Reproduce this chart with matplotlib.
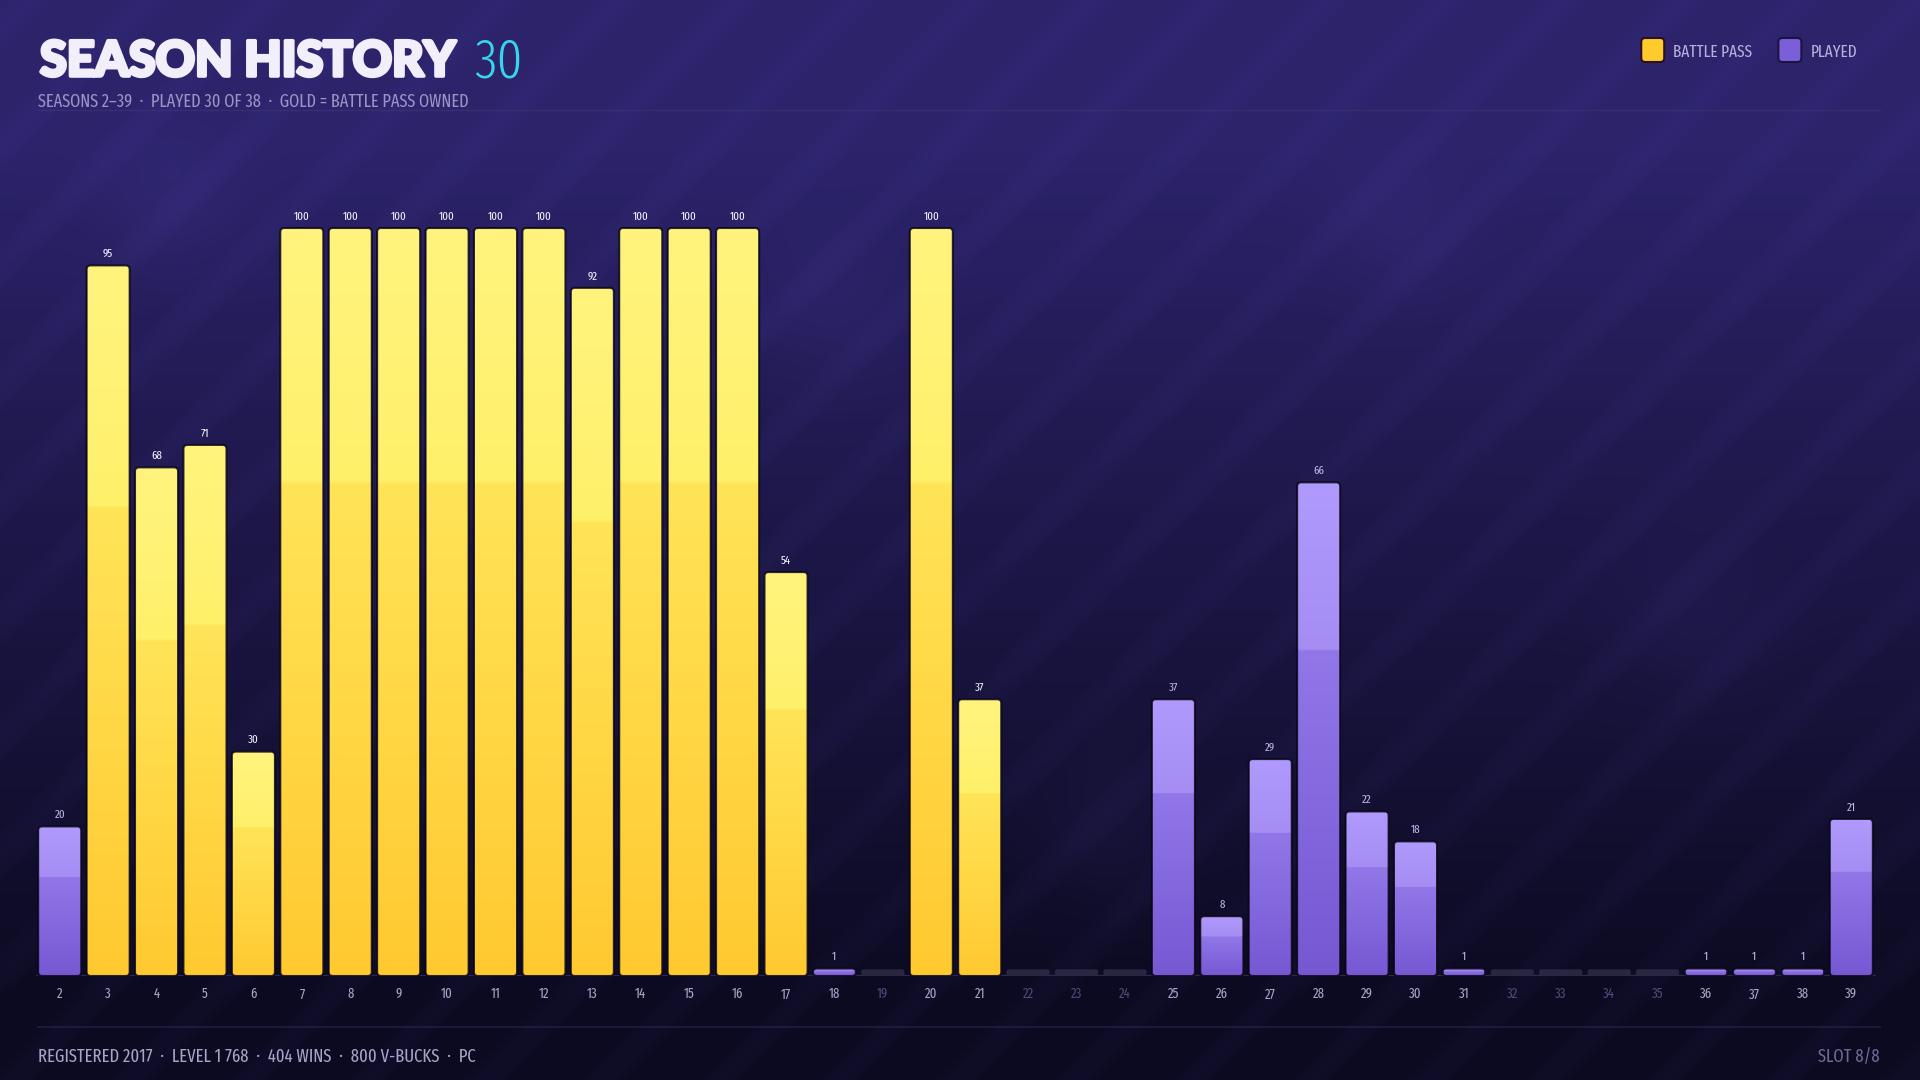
import numpy as np
import matplotlib
matplotlib.use("Agg")
import matplotlib.pyplot as plt
import matplotlib.font_manager as fm
import matplotlib.patheffects as pe
from matplotlib.patches import FancyBboxPatch

# ---------------- data ----------------
seasons = list(range(2, 40))
levels = [20, 95, 68, 71, 30, 100, 100, 100, 100, 100, 100, 92, 100, 100, 100, 54, 1, 0,
          100, 37, 0, 0, 0, 37, 8, 29, 66, 22, 18, 1, 0, 0, 0, 0, 1, 1, 1, 21]
battle_pass_seasons = [3, 4, 5, 6, 7, 8, 9, 10, 11, 12, 13, 14, 15, 16, 17, 20, 21]
title_text = "SEASON HISTORY"
played_count = "30"
subtitle_text = "SEASONS 2\u201339  \u00b7  PLAYED 30 OF 38  \u00b7  GOLD = BATTLE PASS OWNED"
footer_text = "REGISTERED 2017  \u00b7  LEVEL 1 768  \u00b7  404 WINS  \u00b7  800 V-BUCKS  \u00b7  PC"
slot_text = "SLOT 8/8"
legend_labels = ["BATTLE PASS", "PLAYED"]

W, H = 1920, 1080

# ---------------- fonts ----------------
def _weight_val(f):
    w = f.weight
    if isinstance(w, (int, float)):
        return w
    return {"ultralight": 200, "light": 300, "normal": 400, "regular": 400,
            "book": 400, "medium": 500, "semibold": 600, "demibold": 600,
            "bold": 700, "heavy": 800, "extra bold": 800, "black": 900}.get(str(w), 400)

def _stretch_val(f):
    fn = (f.fname.split("/")[-1] + " " + f.name).lower().replace("-", "").replace(" ", "")
    if "ultracondensed" in fn:
        return 100
    if "extracondensed" in fn:
        return 200
    if "semicondensed" in fn:
        return 400
    if "condensed" in fn or "narrow" in fn:
        return 300
    s = f.stretch
    if isinstance(s, (int, float)):
        return s
    return {"condensed": 300, "semi-condensed": 400}.get(str(s), 500)

fonts = [f for f in fm.fontManager.ttflist
         if f.style == "normal" and "italic" not in f.fname.lower()
         and "cjk" not in f.name.lower() and "mono" not in f.name.lower()]

def pick_narrow(target_w=400):
    cands = []
    for f in fonts:
        st = _stretch_val(f)
        if st >= 500:
            continue
        w = _weight_val(f)
        score = abs(w - target_w) / 100.0 + abs(st - 200) / 150.0
        cands.append((score, f.fname))
    if cands:
        cands.sort()
        return fm.FontProperties(fname=cands[0][1])
    return fm.FontProperties(family="DejaVu Sans")

def pick_heavy():
    best = None
    for p in ["Lato", "Roboto", "Inter", "Open Sans", "Noto Sans", "DejaVu Sans"]:
        for f in fonts:
            if f.name == p and _stretch_val(f) == 500:
                w = _weight_val(f)
                if best is None or w > best[0]:
                    best = (w, f.fname)
    if best:
        return fm.FontProperties(fname=best[1])
    return fm.FontProperties(family="DejaVu Sans", weight="bold")

NARROW = pick_narrow(400)
NARROW_LIGHT = pick_narrow(300)
HEAVY = pick_heavy()

def fp(base, size):
    p = base.copy()
    p.set_size(size)
    return p

def hx(c):
    c = c.lstrip("#")
    return np.array([int(c[i:i + 2], 16) for i in (0, 2, 4)]) / 255.0

# ---------------- background ----------------
yy, xx = np.mgrid[0:H, 0:W].astype(float)
f = np.clip((yy - 150) / 850.0, 0, 1) ** 0.95
top, bot = hx("#2c236b"), hx("#0c0a21")
img = top[None, None, :] * (1 - f[..., None]) + bot[None, None, :] * f[..., None]
phase = (xx + yy) % 118
stripe = np.clip(1 - np.abs(phase - 30) / 26, 0, 1) ** 0.6
img += stripe[..., None] * hx("#5a50b0")[None, None, :] * 0.04
for cx, cy, r in [(170, 200, 70), (830, 300, 80), (1400, 230, 70), (1700, 620, 80), (1110, 830, 70)]:
    d = np.hypot(xx - cx, yy - cy) / r
    img += (np.exp(-d ** 2))[..., None] * hx("#6050b0")[None, None, :] * 0.05
img = np.clip(img, 0, 1)

fig = plt.figure(figsize=(19.2, 10.8), dpi=100)
bg = fig.add_axes([0, 0, 1, 1], zorder=0)
bg.imshow(img, extent=(0, W, H, 0), aspect="auto", interpolation="bilinear")
bg.set_xlim(0, W)
bg.set_ylim(H, 0)
bg.axis("off")

# ---------------- bar axes ----------------
ax = fig.add_axes([35.5 / W, 104 / H, 1840 / W, 822.8 / H], zorder=1)
ax.patch.set_alpha(0)
x = np.arange(len(seasons))
ax.set_xlim(-0.5, len(seasons) - 0.5)
ax.set_ylim(0, 110)
for s in ax.spines.values():
    s.set_visible(False)
ax.set_yticks([])

ax.axhline(0, color="#2d2850", lw=1.6, zorder=1)

bar_w = 0.89
is_bp = [s in battle_pass_seasons for s in seasons]
bars = ax.bar(x, levels, width=bar_w, color="none", edgecolor="none")
stub_vals = [0.9 if v == 0 else 0 for v in levels]
stubs = ax.bar(x, stub_vals, width=bar_w, color="none", edgecolor="none")

px_per_x = 1840 / len(seasons)
px_per_y = 822.8 / 110
aspect = px_per_x / px_per_y
r = 4.0 / px_per_x

def grad_img(c_top, c_pre, c_post, c_bot, n=200, step=0.34):
    fr = np.linspace(0, 1, n)
    out = np.zeros((n, 1, 3))
    for i, t in enumerate(fr):
        if t < step:
            k = t / step
            out[i, 0] = hx(c_top) * (1 - k) + hx(c_pre) * k
        else:
            k = (t - step) / (1 - step)
            out[i, 0] = hx(c_post) * (1 - k) + hx(c_bot) * k
    return out

g_bp = grad_img("#fff47e", "#fff06a", "#ffe458", "#ffc930")
g_pl = grad_img("#b09afd", "#a58df3", "#9177e8", "#7658d3")

for i, (b, v) in enumerate(zip(bars, levels)):
    if v <= 0:
        continue
    bx, bw, bh = b.get_x(), b.get_width(), b.get_height()
    patch = FancyBboxPatch((bx, 0), bw, bh,
                           boxstyle=f"round,pad=0,rounding_size={r}",
                           mutation_aspect=aspect,
                           fc="none", ec="#0a0718", lw=1.5, alpha=0.85, zorder=3)
    ax.add_patch(patch)
    clip = FancyBboxPatch((bx, 0), bw, bh,
                          boxstyle=f"round,pad=0,rounding_size={r}",
                          mutation_aspect=aspect, transform=ax.transData,
                          fc="none", ec="none")
    ax.add_patch(clip)
    im = ax.imshow(g_bp if is_bp[i] else g_pl, extent=(bx, bx + bw, 0, bh),
                   aspect="auto", zorder=2, interpolation="bilinear")
    im.set_clip_path(clip)
    ax.annotate(str(v), (bx + bw / 2, bh), xytext=(0, 6),
                textcoords="offset pixels", ha="center", va="bottom",
                fontproperties=fp(NARROW, 8.5),
                color="#f4f2ff" if is_bp[i] else "#bfb5e6", zorder=4)

for s, v in zip(stubs, levels):
    if v != 0:
        continue
    p = FancyBboxPatch((s.get_x(), 0), s.get_width(), s.get_height(),
                       boxstyle=f"round,pad=0,rounding_size={r * 0.6}",
                       mutation_aspect=aspect, fc="#2a2642", ec="none", zorder=2)
    ax.add_patch(p)

ax.set_xlim(-0.5, len(seasons) - 0.5)
ax.set_ylim(0, 110)
ax.set_xticks(x)
ax.set_xticklabels([str(s) for s in seasons], fontproperties=fp(NARROW, 10))
ax.tick_params(axis="x", length=0, pad=8)
for lab, v in zip(ax.get_xticklabels(), levels):
    lab.set_color("#a9a3c9" if v > 0 else "#4f4977")

# ---------------- header ----------------
t = bg.text(40, 76, title_text, fontproperties=fp(HEAVY, 35),
            color="#f2effa", va="baseline", ha="left",
            path_effects=[pe.withStroke(linewidth=2.6, foreground="#f2effa")])
fig.canvas.draw()
rend = fig.canvas.get_renderer()
bb = t.get_window_extent(rend)
bg.text(bb.x1 + 18, 77, played_count, fontproperties=fp(NARROW_LIGHT, 40),
        color="#38d4ee", va="baseline", ha="left")
bg.text(38, 107, subtitle_text, fontproperties=fp(NARROW, 12.8), color="#9a93c4",
        va="baseline", ha="left")
bg.plot([38, 1880], [110, 110], color="#3a3272", lw=1.0, alpha=0.8)

# legend laid out from the right edge
leg_colors = [("#ffca2c", "#2a1020"), ("#7b5fd9", "#1c1440")]
right = 1857
for (fc, ec), lab in zip(leg_colors[::-1], legend_labels[::-1]):
    tx = bg.text(right, 57, lab, fontproperties=fp(NARROW, 12), color="#b7b0de",
                 va="baseline", ha="right")
    fig.canvas.draw()
    tb = tx.get_window_extent(rend)
    text_left = right - tb.width
    sq_x = text_left - 9 - 23
    sq = FancyBboxPatch((sq_x, 38), 23, 24, boxstyle="round,pad=0,rounding_size=4",
                        fc=fc, ec=ec, lw=1.5, transform=bg.transData, zorder=3)
    bg.add_patch(sq)
    right = sq_x - 26

# ---------------- footer ----------------
bg.plot([38, 1880], [1027, 1027], color="#221d40", lw=1.2)
bg.text(38, 1062, footer_text, fontproperties=fp(NARROW, 13), color="#a9a3c8",
        va="baseline", ha="left")
bg.text(1880, 1062, slot_text, fontproperties=fp(NARROW, 13), color="#6f6994",
        va="baseline", ha="right")

fig.savefig("out.png", dpi=100)
